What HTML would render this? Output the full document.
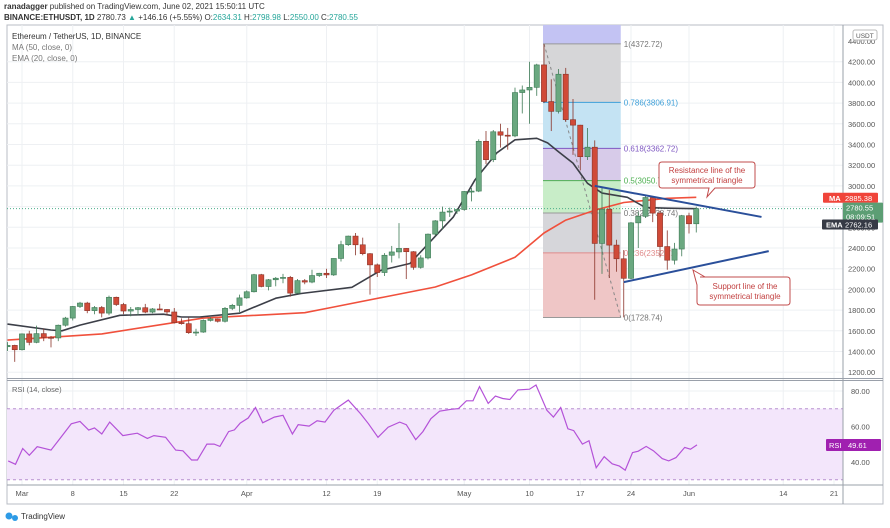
<!DOCTYPE html>
<html><head><meta charset="utf-8"><style>
html,body{margin:0;padding:0;background:#fff;width:890px;height:528px;overflow:hidden;font-family:"Liberation Sans",sans-serif}
svg text{font-family:"Liberation Sans",sans-serif}
</style></head><body>
<svg id="c" width="890" height="528" viewBox="0 0 890 528" xmlns="http://www.w3.org/2000/svg">
<text x="4" y="9" font-size="8" fill="#333"><tspan font-weight="bold">ranadagger</tspan> published on TradingView.com, June 02, 2021 15:50:11 UTC</text>
<text x="4" y="20" font-size="8" fill="#333"><tspan font-weight="bold">BINANCE:ETHUSDT, 1D</tspan> 2780.73 <tspan fill="#26a69a">▲</tspan> +146.16 (+5.55%) O:<tspan fill="#26a69a">2634.31</tspan> H:<tspan fill="#26a69a">2798.98</tspan> L:<tspan fill="#26a69a">2550.00</tspan> C:<tspan fill="#26a69a">2780.55</tspan></text>
<rect x="7" y="25" width="876" height="479" fill="none" stroke="#b8bcc4" stroke-width="1"/>
<g id="grid"></g>
<g id="fib"></g>
<g id="main" clip-path="url(#mc)"></g>
<g id="rsi"></g>
<g id="axes"></g>
<defs><clipPath id="mc"><rect x="7" y="25" width="836" height="353"/></clipPath></defs>
<text x="12" y="39" font-size="8" fill="#333">Ethereum / TetherUS, 1D, BINANCE</text>
<text x="12" y="50" font-size="8" fill="#777">MA (50, close, 0)</text>
<text x="12" y="61" font-size="8" fill="#777">EMA (20, close, 0)</text>
<text x="12" y="392" font-size="7.5" fill="#666">RSI (14, close)</text>
<g>
<path d="M662 162 H752 Q755 162 755 165 V185 Q755 188 752 188 H715 L707 197 L709 188 H662 Q659 188 659 185 V165 Q659 162 662 162 Z" fill="#fff" stroke="#c24c4c" stroke-width="1"/>
<text x="707" y="173" font-size="8" fill="#c24040" text-anchor="middle">Resistance line of the</text>
<text x="707" y="183" font-size="8" fill="#c24040" text-anchor="middle">symmetrical triangle</text>
</g>
<g>
<path d="M700 277 H787 Q790 277 790 280 V302 Q790 305 787 305 H700 Q697 305 697 302 V285 L693 270 L705 277 Z" fill="#fff" stroke="#c24c4c" stroke-width="1"/>
<text x="745" y="289" font-size="8" fill="#c24040" text-anchor="middle">Support line of the</text>
<text x="745" y="299" font-size="8" fill="#c24040" text-anchor="middle">symmetrical triangle</text>
</g>
<g>
<circle cx="9" cy="516" r="3.5" fill="#2e9be6"/><circle cx="15" cy="518" r="3" fill="#2e9be6"/>
<text x="21" y="519" font-size="8" fill="#333">TradingView</text>
</g>
</svg>
<script>
const closes=[1459,1417,1570,1488,1573,1537,1531,1654,1723,1835,1868,1795,1825,1771,1924,1854,1791,1806,1823,1781,1811,1806,1782,1680,1669,1582,1588,1700,1715,1692,1817,1846,1918,1977,2142,2028,2093,2108,2116,1964,2085,2071,2134,2156,2140,2299,2432,2515,2431,2345,2237,2163,2330,2362,2396,2364,2213,2304,2534,2662,2747,2757,2772,2946,2950,3431,3253,3523,3490,3483,3902,3927,3952,4169,3815,3720,4079,3640,3587,3282,3374,2444,2775,2428,2296,2107,2643,2706,2888,2737,2414,2282,2390,2712,2634,2780];
const highs=[1490,1465,1575,1600,1650,1620,1550,1660,1735,1840,1880,1880,1840,1840,1940,1930,1870,1830,1830,1860,1820,1860,1810,1820,1720,1730,1620,1710,1730,1720,1830,1860,1950,1990,2150,2150,2100,2120,2150,2130,2100,2100,2190,2160,2200,2300,2470,2520,2545,2500,2350,2250,2350,2420,2640,2400,2370,2330,2540,2670,2800,2790,2780,2950,2980,3450,3530,3540,3600,3560,3950,3970,4200,4180,4370,4030,4130,4140,3840,3590,3560,3440,2990,2960,2480,2380,2650,2750,2910,2890,2760,2570,2450,2720,2740,2799];
const lows=[1405,1300,1410,1460,1480,1500,1440,1500,1640,1700,1820,1770,1760,1730,1750,1840,1760,1740,1750,1770,1770,1800,1750,1670,1660,1570,1550,1580,1690,1680,1680,1800,1780,1910,1970,2020,1990,2030,2060,1930,1960,2050,2060,2120,2110,2130,2270,2420,2330,2330,1950,2120,2130,2260,2300,2100,2190,2200,2290,2520,2580,2700,2730,2760,2850,2940,3210,3230,3370,3350,3470,3700,3600,3870,3800,3530,3700,3620,3300,3150,3250,1900,2150,2110,2170,1730,2100,2400,2690,2650,2310,2190,2240,2320,2540,2550];
const firstOpen=1446;
const firstDay=-2;
const maDays=[-2,11,25,39,43,50,57,62,68,72,75,79,83,89,93];
const maVals=[1510,1570,1723,1775,1830,1927,2023,2140,2310,2545,2670,2765,2840,2880,2890];
const emaDays=[-2,4,5.5,8,13.5,19.5,22,24.5,30,35,38.5,45.5,49.5,53.5,56.5,59.5,62.5,65.5,68,71,72.5,74,76,78,80,83.5,86,89,93];
const emaVals=[1665,1608,1600,1655,1750,1760,1733,1733,1770,1915,1960,2020,2185,2250,2475,2700,3060,3320,3445,3460,3415,3330,3220,3025,2930,2890,2790,2785,2780];
const rsiDays=[-1.9,-0.9,0.1,1,2.1,4,5.2,6.8,8,9.2,10,11,12.1,13.9,15.9,17.3,18.2,19.8,21.2,22.2,23.4,24.2,25.5,26.5,27.3,28.5,29.3,30.1,31.2,32.2,33.2,34.8,36,37.3,38.1,39.6,40.7,41.8,43,45,46.7,47.8,49.1,50.5,52.1,53,54.3,55.3,56.4,57.6,59.2,60.2,61.3,62.2,63.1,64.3,65.3,66.3,67.3,68.4,70,70.9,72.4,73.3,74.3,75.3,76.1,77.3,78.2,79.2,80.3,81.4,82.4,83.2,84.2,85,86.1,87.1,88.3,89.2,90.2,91.4,92.2,93.1];
const rsiVals=[40.6,38.7,47.6,43.8,48.6,46.7,53,61.5,62.9,58,59.2,55.8,62.5,54.9,56.2,53.3,54.9,53.9,46.7,46.3,41.1,41.1,50.1,50.1,48.8,57.1,58.1,61.9,64.8,70.7,62.1,65.3,66.3,55.8,61,60.2,63.2,62.5,69.1,74.9,67.2,61.5,53.9,59.6,62.5,61,52.6,57.1,64.4,68.6,69.7,70.1,74.5,74.5,82.5,73,77.1,75.8,75.2,80.6,81,83.4,69.1,65.3,70.7,58.7,57.7,50.1,52,36.8,43,39,37.7,35.4,45.3,46.1,48.8,46.3,41.9,40.6,42.5,48.2,47.2,49.61];
const priceTicks=[4400,4200,4000,3800,3600,3400,3200,3000,2800,2600,2400,2200,2000,1800,1600,1400,1200];
const rsiTicks=[80,60,40];
const dateLabels=["Mar","8","15","22","Apr","12","19","May","10","17","24","Jun","14","21"];
const dateDays=[0,7,14,21,31,42,49,61,70,77,84,92,105,112];
const fibRatios=[1,0.786,0.618,0.5,0.382,0.236,0];
const fibHigh=4372.72, fibLow=1728.74;
const fibStartDay=72, fibEndDay=83;
const resistLine=[[79,3000],[102,2700]];
const supportLine=[[83,2070],[103,2370]];
const lastPrice=2780.55, maLast=2885.38, emaLast=2762.16, rsiLast=49.61;

const NS="http://www.w3.org/2000/svg";
const xD=d=>22+7.25*d;
const yP=p=>61.7+(4200-p)*0.1035;
const yR=r=>391+(80-r)*1.775;
function mk(tag,attrs,parent){const e=document.createElementNS(NS,tag);for(const k in attrs)e.setAttribute(k,attrs[k]);parent.appendChild(e);return e;}
const G=id=>document.getElementById(id);

// grid
const grid=G('grid');
priceTicks.forEach(p=>{if(p<=4300){const l=mk('line',{x1:7,x2:843,y1:yP(p),y2:yP(p),stroke:'#eef0f3'},grid);

}});
rsiTicks.forEach(r=>{const l=mk('line',{x1:7,x2:843,y1:yR(r),y2:yR(r),stroke:'#eef0f3'},grid);

});
dateDays.forEach(d=>{const l=mk('line',{x1:xD(d),x2:xD(d),y1:25,y2:485,stroke:'#eef0f3'},grid);

});

// fib
const fib=G('fib');
const fx1=xD(fibStartDay)-1, fx2=xD(fibEndDay)-3;
const fibLev=fibRatios.map(r=>fibLow+(fibHigh-fibLow)*r);
const bandCols=['#d6d6d8','#c4e3f3','#d7cbe9','#c8edc8','#d6d6da','#efc6c6'];
const lineCols=['#999','#3d9fd8','#7e57c2','#4caf50','#999','#e08a8a','#999'];
const topBand=mk('rect',{x:fx1,y:25,width:fx2-fx1,height:yP(fibHigh)-25,fill:'#c3c3f3'},fib);


for(let i=0;i<6;i++){const b=mk('rect',{x:fx1,y:yP(fibLev[i]),width:fx2-fx1,height:yP(fibLev[i+1])-yP(fibLev[i]),fill:bandCols[i]},fib);

}
fibRatios.forEach((r,i)=>{const y=yP(fibLev[i]);
const l=mk('line',{x1:fx1,x2:fx2,y1:y,y2:y,stroke:lineCols[i],'stroke-width':1},fib);


const t=mk('text',{x:fx2+3,y:y+3,'font-size':8,fill:lineCols[i]==='#999'?'#777':lineCols[i]},fib);
t.textContent=(r===1?'1':r===0?'0':String(r))+'('+fibLev[i].toFixed(2)+')';

});
const fd=mk('line',{x1:xD(fibStartDay),y1:yP(fibHigh),x2:fx2,y2:yP(fibLow),stroke:'#888','stroke-dasharray':'3,3'},fib);



// main
const main=G('main');
const cur=mk('line',{x1:7,x2:843,y1:yP(lastPrice),y2:yP(lastPrice),stroke:'#4caf8a','stroke-dasharray':'1,2'},main);


function poly(days,vals,col,w,name){const pts=days.map((d,i)=>xD(d).toFixed(1)+','+yP(vals[i]).toFixed(1)).join(' ');
const p=mk('polyline',{points:pts,fill:'none',stroke:col,'stroke-width':w,'stroke-linejoin':'round'},main);

}
poly(maDays,maVals,'#f0503c',1.6,'ma50-line');
poly(emaDays,emaVals,'#3c3f48',1.6,'ema20-line');
closes.forEach((c,i)=>{const o=i===0?firstOpen:closes[i-1];const x=xD(firstDay+i);const up=c>=o;
const g=mk('g',{},main);


mk('line',{x1:x,x2:x,y1:yP(highs[i]),y2:yP(lows[i]),stroke:up?'#3d7a55':'#8a3328','stroke-width':0.8},g);
const yt=yP(Math.max(o,c)),yb=yP(Math.min(o,c));
mk('rect',{x:x-2.6,y:yt,width:5.2,height:Math.max(1,yb-yt),fill:up?'#6aa880':'#d04a38',stroke:up?'#3d7a55':'#8a3328','stroke-width':0.6},g);});
const rl=mk('line',{x1:xD(resistLine[0][0]),y1:yP(resistLine[0][1]),x2:xD(resistLine[1][0]),y2:yP(resistLine[1][1]),stroke:'#2a4f9a','stroke-width':2},main);


const sl=mk('line',{x1:xD(supportLine[0][0]),y1:yP(supportLine[0][1]),x2:xD(supportLine[1][0]),y2:yP(supportLine[1][1]),stroke:'#2a4f9a','stroke-width':2},main);



// rsi
const rsi=G('rsi');
const band=mk('rect',{x:7,y:yR(70),width:836,height:yR(30)-yR(70),fill:'#f3e6fb'},rsi);


[70,30].forEach(r=>{const l=mk('line',{x1:7,x2:843,y1:yR(r),y2:yR(r),stroke:'#b890d0','stroke-dasharray':'3,3'},rsi);

});
const rp=mk('polyline',{points:rsiDays.map((d,i)=>xD(d).toFixed(1)+','+yR(rsiVals[i]).toFixed(1)).join(' '),fill:'none',stroke:'#b452d8','stroke-width':1.2},rsi);



// axes
const ax=G('axes');
[[843,25,843,504],[7,378.5,883,378.5],[7,380.5,883,380.5],[7,485,883,485]].forEach(a=>{const l=mk('line',{x1:a[0],y1:a[1],x2:a[2],y2:a[3],stroke:'#9aa0aa'},ax);

});
priceTicks.forEach(p=>{const t=mk('text',{x:848,y:yP(p)+3,'font-size':7.5,fill:'#555'},ax);t.textContent=p.toFixed(2);

});
rsiTicks.forEach(r=>{const t=mk('text',{x:851,y:yR(r)+3,'font-size':7.5,fill:'#555'},ax);t.textContent=r.toFixed(2);

});
dateLabels.forEach((s,i)=>{const t=mk('text',{x:xD(dateDays[i]),y:496,'font-size':7.5,fill:'#555','text-anchor':'middle'},ax);t.textContent=s;

});
function tag(x,y,w,h,bg,txt,name){const g=mk('g',{},ax);


mk('rect',{x:x,y:y,width:w,height:h,fill:bg,rx:1},g);
txt.forEach((t,i)=>{const e=mk('text',{x:t[0],y:t[1],'font-size':7.5,fill:'#fff','font-weight':t[2]||'normal'},g);e.textContent=t[3];});}
const usd=mk('g',{},ax);


mk('rect',{x:853,y:30,width:24,height:10,fill:'#fff',stroke:'#bbb',rx:2},usd);
const ut=mk('text',{x:856,y:38,'font-size':6.5,fill:'#555'},usd);ut.textContent='USDT';
const ym=yP(maLast);
tag(823,ym-5,55,10,'#f0443a',[[829,ym+3,'bold','MA'],[845,ym+3,'normal',maLast.toFixed(2)]],'ma-price-tag');
const yl=yP(lastPrice);
tag(843,yl-6,40,20,'#5c9e74',[[846,yl+2,'normal',lastPrice.toFixed(2)],[846,yl+11,'normal','08:09:51']],'last-price-tag');
const ye=yP(emaLast)+14;
tag(822,ye-5,56,10,'#363a45',[[826,ye+3,'bold','EMA'],[845,ye+3,'normal',emaLast.toFixed(2)]],'ema-price-tag');
const yr=yR(rsiLast);
tag(826,yr-6,55,12,'#a020b0',[[829,yr+3,'normal','RSI'],[848,yr+3,'normal',rsiLast.toFixed(2)]],'rsi-value-tag');
</script>
</body></html>
